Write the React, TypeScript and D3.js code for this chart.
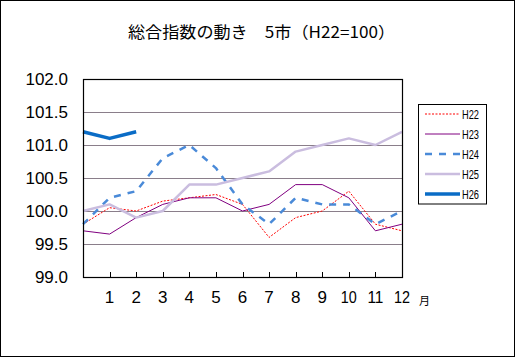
import React from "react";
import * as d3 from "d3";

const title = "総合指数の動き　5市（H22=100）";
const months = [0, 1, 2, 3, 4, 5, 6, 7, 8, 9, 10, 11, 12];
const xTickLabels = ["1", "2", "3", "4", "5", "6", "7", "8", "9", "10", "11", "12"];
const yTicks = [99.0, 99.5, 100.0, 100.5, 101.0, 101.5, 102.0];
const seriesNames = ["H22", "H23", "H24", "H25", "H26"];
const H22 = [99.8, 100.05, 100.0, 100.15, 100.2, 100.25, 100.1, 99.6, 99.9, 100.0, 100.3, 99.8, 99.7];
const H23 = [99.7, 99.65, 99.9, 100.1, 100.2, 100.2, 100.0, 100.1, 100.4, 100.4, 100.2, 99.7, 99.8];
const H24 = [99.8, 100.2, 100.3, 100.8, 101.0, 100.65, 100.1, 99.8, 100.2, 100.1, 100.1, 99.8, 100.0];
const H25 = [100.0, 100.1, 99.9, 100.0, 100.4, 100.4, 100.5, 100.6, 100.9, 101.0, 101.1, 101.0, 101.2];
const H26 = [101.2, 101.1, 101.2];

const styles: Record<string, { stroke: string; width: number; dash?: string }> = {
  H22: { stroke: "#ff0000", width: 1, dash: "2,1.5" },
  H23: { stroke: "#800080", width: 1 },
  H24: { stroke: "#4a8ad8", width: 2.5, dash: "7,7" },
  H25: { stroke: "#cabddf", width: 2.5 },
  H26: { stroke: "#0a6cc6", width: 3.5 },
};

const seriesData: Record<string, number[]> = { H22, H23, H24, H25, H26 };

export default function App() {
  const W = 515, H = 357;
  const left = 83, right = 402, top = 79, bottom = 277;
  const x = d3.scaleLinear().domain([0, 12]).range([left, right]);
  const y = d3.scaleLinear().domain([99, 102]).range([bottom, top]);
  const line = d3
    .line<number>()
    .x((_, i) => x(months[i]))
    .y((v) => y(v));

  const font = "'Liberation Sans', Arial, sans-serif";
  const legX = 418.5, legY = 104.5, legW = 68, legH = 99.5;
  const legRows = [114, 134, 154, 174, 194];

  return (
    <svg
      width={W}
      height={H}
      style={{ position: "absolute", left: 0, top: 0, background: "#fff" }}
    >
      <rect x={0.5} y={0.5} width={W - 1} height={H - 1} fill="#fff" stroke="#000" />
      <text
        x={W / 2 + 4}
        y={38}
        textAnchor="middle"
        fontSize={16}
        fontFamily="'Noto Sans CJK JP', sans-serif"
        textLength={267}
        lengthAdjust="spacingAndGlyphs"
      >
        {title}
      </text>

      {/* gridlines */}
      {yTicks
        .filter((t) => t > 99 && t < 102)
        .map((t) => (
          <line
            key={t}
            x1={left}
            x2={right}
            y1={Math.round(y(t)) + 0.5}
            y2={Math.round(y(t)) + 0.5}
            stroke="#8a7e8a"
            strokeWidth={1}
          />
        ))}

      {/* y labels */}
      {yTicks.map((t) => (
        <text
          key={t}
          x={68}
          y={y(t) + 6}
          textAnchor="end"
          fontSize={17}
          fontFamily={font}
        >
          {t.toFixed(1)}
        </text>
      ))}

      {/* series */}
      {seriesNames.map((n) => (
        <path
          key={n}
          d={line(seriesData[n]) || ""}
          fill="none"
          stroke={styles[n].stroke}
          strokeWidth={styles[n].width}
          strokeDasharray={styles[n].dash}
          strokeLinejoin="round"
        />
      ))}

      {/* plot frame */}
      <rect
        x={left + 0.5}
        y={top + 0.5}
        width={right - left}
        height={bottom - top}
        fill="none"
        stroke="#000"
        strokeWidth={1.2}
      />

      {/* x ticks */}
      {months
        .filter((m) => m > 0 && m < 12)
        .map((m) => (
          <line
            key={m}
            x1={Math.round(x(m)) + 0.5}
            x2={Math.round(x(m)) + 0.5}
            y1={bottom}
            y2={bottom - 5}
            stroke="#000"
          />
        ))}
      {xTickLabels.map((l, i) => (
        <text
          key={l}
          x={x(i + 1)}
          y={303}
          textAnchor="middle"
          fontSize={17}
          fontFamily={font}
          textLength={l.length > 1 ? 16 : undefined}
          lengthAdjust="spacingAndGlyphs"
        >
          {l}
        </text>
      ))}
      <text x={419} y={305} fontSize={11} fontFamily="'Noto Sans CJK JP', sans-serif">
        月
      </text>

      {/* legend */}
      <rect x={legX} y={legY} width={legW} height={legH} fill="#fff" stroke="#000" />
      {seriesNames.map((n, i) => (
        <g key={n}>
          <line
            x1={425}
            x2={460}
            y1={legRows[i]}
            y2={legRows[i]}
            stroke={styles[n].stroke}
            strokeWidth={styles[n].width}
            strokeDasharray={styles[n].dash}
          />
          <text
            x={462}
            y={legRows[i] + 4.5}
            fontSize={12.5}
            fontFamily={font}
            textLength={17}
            lengthAdjust="spacingAndGlyphs"
          >
            {n}
          </text>
        </g>
      ))}
    </svg>
  );
}
